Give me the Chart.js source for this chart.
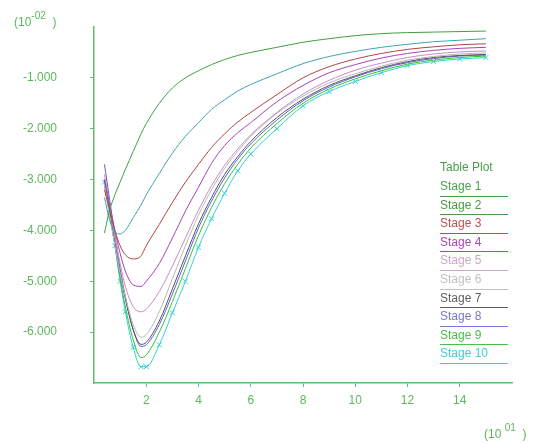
<!DOCTYPE html>
<html>
<head>
<title>Table Plot</title>
<script src="https://cdn.jsdelivr.net/npm/chart.js"></script>
<style>
  body { margin: 0; background: #fff; font-family: "Liberation Sans", Arial, sans-serif; }
  .wrap { position: relative; width: 548px; height: 443px; }
  canvas { position: absolute; left: 0; top: 0; }
  .exp { position: absolute; color: #5cb85c; font-size: 12px; }
  .exp sup { font-size: 10px; position: relative; top: -2px; }
  .legend { position: absolute; left: 440px; top: 160px; font-size: 12px; }
  .legend .title { color: #4aa04a; height: 18px; }
  .legend .item { height: 18.6px; width: 68px; box-sizing: border-box; border-bottom: 1.5px solid; line-height: 16px; }
</style>
</head>
<body>
<div class="wrap">
  <canvas id="chart" width="548" height="443"></canvas>
  <div class="exp" style="left:14px; top:12px;">(10<sup>-02</sup>&nbsp; )</div>
  <div class="exp" style="left:484px; top:424px;">(10 <sup>01</sup>&nbsp; )</div>
  <div class="legend" id="legend"></div>
</div>
<script>
  // x positions (units of 10^1), y values (units of 10^-2)
  const xValues = [0.4, 0.6, 0.8, 1.0, 1.2, 1.5, 1.8, 2.0, 2.5, 3, 3.5, 4, 4.5, 5, 5.5, 6, 7, 8, 9, 10, 11, 12, 13, 14, 15];

  const stage1  = [-4.05, -3.6, -3.3, -3.05, -2.8, -2.45, -2.1, -1.9, -1.5, -1.2, -1.0, -0.86, -0.74, -0.64, -0.56, -0.5, -0.4, -0.3, -0.23, -0.17, -0.13, -0.11, -0.1, -0.09, -0.08];
  const stage2  = [-3.35, -3.8, -4.02, -4.07, -4.0, -3.75, -3.5, -3.3, -2.88, -2.48, -2.15, -1.88, -1.62, -1.43, -1.26, -1.13, -0.92, -0.72, -0.58, -0.48, -0.4, -0.34, -0.29, -0.26, -0.23];
  const stage3  = [-3.2, -3.6, -4.0, -4.3, -4.48, -4.56, -4.5, -4.3, -3.88, -3.45, -3.05, -2.7, -2.37, -2.1, -1.87, -1.68, -1.33, -1.0, -0.78, -0.63, -0.52, -0.44, -0.39, -0.35, -0.33];
  const stage4  = [-3.0, -3.5, -4.0, -4.45, -4.8, -5.07, -5.1, -5.0, -4.65, -4.15, -3.62, -3.15, -2.68, -2.33, -2.08, -1.88, -1.47, -1.15, -0.9, -0.74, -0.61, -0.52, -0.46, -0.42, -0.4];
  const stage5  = [-2.9, -3.5, -4.1, -4.65, -5.1, -5.5, -5.6, -5.55, -5.2, -4.7, -4.15, -3.6, -3.12, -2.72, -2.4, -2.12, -1.68, -1.32, -1.05, -0.85, -0.71, -0.6, -0.53, -0.49, -0.47];
  const stage6  = [-3.1, -3.7, -4.3, -4.85, -5.3, -5.85, -6.1, -6.05, -5.6, -4.95, -4.3, -3.7, -3.2, -2.78, -2.45, -2.15, -1.7, -1.36, -1.1, -0.92, -0.77, -0.65, -0.58, -0.53, -0.51];
  const stage7  = [-3.0, -3.6, -4.25, -4.85, -5.35, -5.95, -6.24, -6.2, -5.78, -5.15, -4.5, -3.87, -3.35, -2.9, -2.55, -2.25, -1.78, -1.42, -1.15, -0.96, -0.8, -0.68, -0.6, -0.56, -0.54];
  const stage8  = [-2.7, -3.4, -4.1, -4.75, -5.3, -5.95, -6.28, -6.25, -5.85, -5.25, -4.6, -3.95, -3.42, -2.97, -2.6, -2.3, -1.83, -1.45, -1.18, -0.98, -0.82, -0.7, -0.62, -0.57, -0.55];
  const stage9  = [-3.1, -3.7, -4.3, -4.95, -5.5, -6.15, -6.5, -6.45, -6.0, -5.4, -4.75, -4.1, -3.55, -3.08, -2.7, -2.38, -1.9, -1.5, -1.22, -1.02, -0.86, -0.73, -0.65, -0.6, -0.57];
  const stage10 = [-3.05, -3.65, -4.3, -5.0, -5.6, -6.3, -6.68, -6.68, -6.25, -5.62, -5.0, -4.33, -3.77, -3.27, -2.83, -2.5, -2.0, -1.55, -1.27, -1.07, -0.9, -0.76, -0.68, -0.63, -0.6];

  const stageNames = ['Stage 1', 'Stage 2', 'Stage 3', 'Stage 4', 'Stage 5', 'Stage 6', 'Stage 7', 'Stage 8', 'Stage 9', 'Stage 10'];
  const yTicks = [-1, -2, -3, -4, -5, -6];
  const xTicks = [2, 4, 6, 8, 10, 12, 14];

  const series = [stage1, stage2, stage3, stage4, stage5, stage6, stage7, stage8, stage9, stage10];
  const lineColors = ['#3fa03f', '#42a2b4', '#b04444', '#a444b4', '#c88ac8', '#b8b8b8', '#505068', '#6262c4', '#38c038', '#30d0d4'];
  const legendColors = ['#4aa04a', '#4a9a4a', '#c05050', '#a848b8', '#c8a8c8', '#c0c0c0', '#606060', '#7878d8', '#48c048', '#40d0d0'];
  const axisGreen = '#66bb66';

  const datasets = series.map((vals, i) => ({
    label: stageNames[i],
    data: vals.map((v, j) => ({ x: xValues[j], y: v })),
    borderColor: lineColors[i],
    backgroundColor: lineColors[i],
    borderWidth: 1,
    pointRadius: i === 9 ? 3.5 : 0,
    pointStyle: 'crossRot',
    pointBorderWidth: 1,
    cubicInterpolationMode: 'monotone',
    fill: false
  }));

  new Chart(document.getElementById('chart'), {
    type: 'line',
    data: { datasets },
    options: {
      responsive: false,
      animation: false,
      layout: { padding: { left: 0, top: 27, right: 36, bottom: 0 } },
      plugins: { legend: { display: false }, tooltip: { enabled: false } },
      scales: {
        x: {
          type: 'linear',
          min: 0,
          max: 16,
          afterBuildTicks: s => { s.ticks = xTicks.map(v => ({ value: v })); },
          afterFit: s => { s.height = 60; },
          border: { color: axisGreen, width: 1.5 },
          grid: { drawOnChartArea: false, tickLength: 4, color: axisGreen },
          ticks: { color: '#5cb85c', padding: 6, font: { size: 12, family: 'Liberation Sans' } }
        },
        y: {
          type: 'linear',
          min: -7,
          max: 0,
          afterBuildTicks: s => { s.ticks = yTicks.map(v => ({ value: v })); },
          afterFit: s => { s.width = 94; s.paddingTop = 0; s.paddingBottom = 0; },
          border: { color: axisGreen, width: 1.5 },
          grid: { drawOnChartArea: false, tickLength: 4, color: axisGreen },
          ticks: {
            color: '#5cb85c',
            padding: 33,
            font: { size: 12, family: 'Liberation Sans' },
            callback: v => v.toFixed(3)
          }
        }
      }
    }
  });

  const legend = document.getElementById('legend');
  legend.innerHTML = '<div class="title">Table Plot</div>' +
    stageNames.map((n, i) => `<div class="item" style="color:${legendColors[i]};border-color:${legendColors[i]}">${n}</div>`).join('');
</script>
</body>
</html>
